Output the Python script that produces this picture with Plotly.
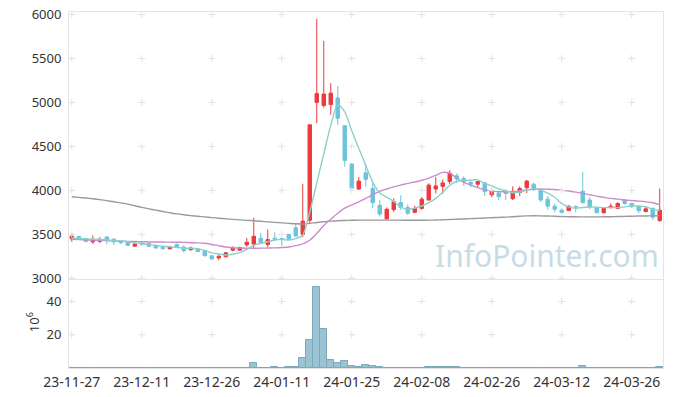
import plotly.graph_objects as go

# ---------------- data ----------------
dates = [
    "23-11-27", "23-11-28", "23-11-29", "23-11-30", "23-12-01",
    "23-12-04", "23-12-05", "23-12-06", "23-12-07", "23-12-08",
    "23-12-11", "23-12-12", "23-12-13", "23-12-14", "23-12-15",
    "23-12-18", "23-12-19", "23-12-20", "23-12-21", "23-12-22",
    "23-12-26", "23-12-27", "23-12-28", "24-01-02", "24-01-03",
    "24-01-04", "24-01-05", "24-01-08", "24-01-09", "24-01-10",
    "24-01-11", "24-01-12", "24-01-15", "24-01-16", "24-01-17",
    "24-01-18", "24-01-19", "24-01-22", "24-01-23", "24-01-24",
    "24-01-25", "24-01-26", "24-01-29", "24-01-30", "24-01-31",
    "24-02-01", "24-02-02", "24-02-05", "24-02-06", "24-02-07",
    "24-02-08", "24-02-13", "24-02-14", "24-02-15", "24-02-16",
    "24-02-19", "24-02-20", "24-02-21", "24-02-22", "24-02-23",
    "24-02-26", "24-02-27", "24-02-28", "24-02-29", "24-03-04",
    "24-03-05", "24-03-06", "24-03-07", "24-03-08", "24-03-11",
    "24-03-12", "24-03-13", "24-03-14", "24-03-15", "24-03-18",
    "24-03-19", "24-03-20", "24-03-21", "24-03-22", "24-03-25",
    "24-03-26", "24-03-27", "24-03-28", "24-03-29", "24-04-01",
]

opens = [
    3450, 3475, 3450, 3415, 3420, 3470, 3445, 3420, 3415, 3365,
    3400, 3400, 3375, 3360, 3335, 3385, 3355, 3325, 3335, 3315,
    3255, 3232, 3245, 3320, 3320, 3380, 3390, 3455, 3385, 3455,
    3452, 3500, 3575, 3500, 3660, 5000, 4965, 4975, 5050, 4735,
    4300, 4015, 4200, 4020, 3830, 3675, 3780, 3860, 3805, 3750,
    3795, 3890, 4015, 4045, 4100, 4165, 4135, 4090, 4070, 4085,
    3950, 3970, 3975, 3905, 3975, 4030, 4070, 4005, 3900, 3820,
    3775, 3770, 3815, 3990, 3890, 3800, 3745, 3805, 3795, 3890,
    3850, 3820, 3760, 3795, 3655,
]
highs = [
    3510, 3480, 3460, 3485, 3470, 3480, 3455, 3430, 3420, 3395,
    3420, 3405, 3385, 3365, 3365, 3395, 3375, 3360, 3345, 3320,
    3260, 3270, 3300, 3365, 3360, 3460, 3690, 3515, 3555, 3520,
    3455, 3505, 3625, 4075, 4745, 5950, 5700, 5220, 5185, 4740,
    4310, 4150, 4300, 4080, 3890, 3805, 3910, 3945, 3840, 3825,
    3925, 4080, 4150, 4125, 4230, 4195, 4160, 4115, 4105, 4095,
    4015, 4000, 4010, 4045, 4045, 4120, 4085, 4010, 3935, 3850,
    3795, 3830, 3830, 4210, 3920, 3815, 3805, 3850, 3865, 3900,
    3860, 3830, 3815, 3805, 4020,
]
lows = [
    3414, 3435, 3410, 3390, 3400, 3385, 3380, 3390, 3365, 3360,
    3370, 3355, 3335, 3330, 3330, 3350, 3290, 3315, 3300, 3245,
    3210, 3205, 3240, 3305, 3315, 3358, 3340, 3395, 3355, 3425,
    3370, 3435, 3470, 3470, 3625, 4765, 4940, 4860, 4745, 4270,
    4020, 4005, 4045, 3795, 3700, 3670, 3755, 3775, 3720, 3740,
    3780, 3885, 3965, 3960, 4070, 4080, 4050, 4035, 4035, 3935,
    3920, 3890, 3890, 3890, 3935, 3970, 4000, 3870, 3780, 3750,
    3735, 3765, 3750, 3850, 3785, 3740, 3740, 3790, 3785, 3835,
    3800, 3740, 3750, 3665, 3645,
]
closes = [
    3480, 3445, 3420, 3435, 3440, 3435, 3415, 3405, 3375, 3390,
    3390, 3365, 3345, 3335, 3355, 3360, 3315, 3345, 3305, 3258,
    3220, 3250, 3290, 3345, 3348, 3410, 3478, 3405, 3440, 3440,
    3448, 3445, 3480, 3650, 4745, 5100, 5095, 5105, 4820, 4340,
    4025, 4105, 4125, 3860, 3730, 3785, 3870, 3805, 3740, 3795,
    3900, 4060, 4050, 4085, 4195, 4130, 4100, 4070, 4100, 3985,
    3995, 3930, 3965, 3990, 4020, 4105, 4005, 3890, 3820, 3785,
    3750, 3820, 3810, 3860, 3810, 3745, 3795, 3820, 3850, 3850,
    3815, 3770, 3790, 3695, 3775,
]

# moving-average lines
ma5 = [
    3455, 3452, 3448, 3446, 3444, 3435, 3429, 3426, 3414, 3404,
    3395, 3385, 3373, 3365, 3358, 3352, 3342, 3342, 3336, 3317,
    3289, 3276, 3265, 3273, 3291, 3329, 3374, 3397, 3416, 3435,
    3442, 3436, 3451, 3493, 3754, 4084, 4414, 4739, 4973, 4892,
    4677, 4479, 4283, 4091, 3969, 3921, 3874, 3810, 3786, 3799,
    3822, 3860, 3909, 3978, 4058, 4104, 4112, 4116, 4119, 4077,
    4050, 4016, 3995, 3973, 3980, 4002, 4017, 4002, 3968, 3921,
    3850, 3813, 3797, 3805, 3810, 3809, 3804, 3806, 3804, 3812,
    3826, 3821, 3815, 3784, 3769,
]
ma20 = [
    3442, 3440, 3437, 3434, 3431, 3428, 3425, 3422, 3420, 3418,
    3416, 3414, 3413, 3412, 3411, 3410, 3408, 3405, 3403, 3398,
    3385, 3370, 3356, 3348, 3344, 3342, 3342, 3343, 3344, 3346,
    3350, 3356, 3372, 3392, 3433, 3510, 3600, 3672, 3740, 3798,
    3835, 3870, 3910, 3950, 3990, 4015, 4040, 4060, 4080, 4095,
    4115, 4140, 4170, 4205, 4195, 4140, 4090, 4060, 4030, 4005,
    3995, 3985, 3985, 3985, 3995, 4005, 4012, 4015, 4013, 4010,
    4000, 3992, 3980, 3966, 3950, 3935, 3920, 3909, 3900, 3890,
    3884, 3878, 3870, 3859, 3835,
]
ma_long = [
    3927, 3920, 3913, 3905, 3895, 3883, 3870, 3857, 3843, 3825,
    3806, 3790, 3775, 3760, 3745, 3732, 3722, 3713, 3705, 3698,
    3690, 3683, 3676, 3670, 3664, 3659, 3654, 3648, 3642, 3636,
    3630, 3625, 3620, 3618, 3625, 3635, 3643, 3650, 3655, 3658,
    3660, 3661, 3662, 3662, 3662, 3662, 3662, 3661, 3660, 3660,
    3660, 3661, 3663, 3666, 3669, 3672, 3675, 3678, 3681, 3685,
    3689, 3692, 3696, 3700, 3705, 3710, 3711, 3710, 3708, 3705,
    3702, 3700, 3699, 3698, 3698, 3698, 3699, 3700, 3702, 3704,
    3706, 3708, 3709, 3710, 3711,
]

# volume in millions of shares (10^6); 0 = no visible bar
volume = [
    0, 0, 0, 0, 0, 0, 0, 0, 0, 0,
    0, 0, 0, 0, 0, 0, 0, 0, 0, 0,
    0, 0, 0, 0, 0, 0, 3.0, 0, 0, 0.6,
    0, 0.6, 0.6, 6.0, 16.8, 48.6, 23.4, 4.8, 3.2, 4.3,
    1.3, 0.6, 1.9, 1.1, 0.5, 0, 0, 0, 0, 0,
    0, 0.4, 0.4, 0.4, 0.4, 0.4, 0, 0, 0, 0,
    0, 0, 0, 0, 0, 0, 0, 0, 0, 0,
    0, 0, 0, 1.4, 0, 0, 0, 0, 0, 0,
    0, 0, 0, 0, 0.8,
]

price_ticks = [3000, 3500, 4000, 4500, 5000, 5500, 6000]
vol_ticks = [20, 40]
date_ticks = dates[::10]

# ---------------- style ----------------
RED = "#ee3a3e"
CYAN = "#6cc4db"
FONT = "Noto Sans"
TICK_COLOR = "#333333"
FRAME = "#e4e4e4"

fig = go.Figure()

fig.add_trace(go.Candlestick(
    x=dates, open=opens, high=highs, low=lows, close=closes,
    xaxis="x2", yaxis="y2",
    increasing=dict(line=dict(color=RED, width=1), fillcolor=RED),
    decreasing=dict(line=dict(color=CYAN, width=1), fillcolor=CYAN),
    whiskerwidth=0, hoverinfo="skip", showlegend=False,
))

for vals, col in [(ma_long, "#9a9a9a"), (ma20, "#cc8bcc"), (ma5, "#8dd0c7")]:
    fig.add_trace(go.Scatter(
        x=dates, y=vals, mode="lines", xaxis="x2", yaxis="y2",
        line=dict(color=col, width=1.4, shape="spline", smoothing=0.8),
        hoverinfo="skip", showlegend=False,
    ))

fig.add_trace(go.Bar(
    x=dates, y=volume, xaxis="x", yaxis="y",
    marker=dict(color="#9bc3d3", line=dict(color="#7ea8bb", width=1)),
    hoverinfo="skip", showlegend=False,
))

# grid crosses (price pane)
fig.add_trace(go.Scatter(
    x=[d for d in date_ticks for _ in price_ticks],
    y=[p for _ in date_ticks for p in price_ticks],
    mode="markers", xaxis="x2", yaxis="y2",
    marker=dict(symbol="cross-thin", size=5, line=dict(color="#e2e2e2", width=1)),
    hoverinfo="skip", showlegend=False,
))
# grid crosses (volume pane)
fig.add_trace(go.Scatter(
    x=[d for d in date_ticks for _ in vol_ticks],
    y=[v for _ in date_ticks for v in vol_ticks],
    mode="markers", xaxis="x", yaxis="y",
    marker=dict(symbol="cross-thin", size=5, line=dict(color="#e2e2e2", width=1)),
    hoverinfo="skip", showlegend=False,
))

ytickfont = dict(family=FONT, size=13, color=TICK_COLOR)
xtickfont = dict(family=FONT, size=14, color=TICK_COLOR)

fig.update_layout(
    width=673, height=397,
    margin=dict(l=69, r=10, t=12, b=29),
    paper_bgcolor="white", plot_bgcolor="white",
    bargap=0,
    showlegend=False,
    xaxis=dict(
        domain=[0, 1], anchor="y", type="category",
        categoryorder="array", categoryarray=dates,
        range=[-0.4, 84.47],
        tickmode="array", tickvals=date_ticks, ticktext=date_ticks,
        tickangle=0, automargin=False, ticklabeloverflow="allow",
        tickfont=xtickfont, ticks="outside", ticklen=1, tickcolor="rgba(0,0,0,0)",
        showgrid=False, zeroline=False,
        showline=True, linecolor=FRAME, linewidth=1, mirror=True,
        rangeslider=dict(visible=False),
    ),
    xaxis2=dict(
        domain=[0, 1], anchor="y2", type="category", matches="x",
        categoryorder="array", categoryarray=dates,
        showticklabels=False, ticks="",
        showgrid=False, zeroline=False,
        showline=True, linecolor=FRAME, linewidth=1, mirror=True,
        rangeslider=dict(visible=False),
    ),
    yaxis=dict(
        domain=[0, 0.2472], range=[0, 52.9], automargin=False,
        ticklabeloverflow="allow",
        tickmode="array", tickvals=vol_ticks,
        tickfont=ytickfont, ticks="outside", ticklen=4, tickcolor="rgba(0,0,0,0)",
        showgrid=False, zeroline=False,
        showline=True, linecolor=FRAME, linewidth=1, mirror=True,
    ),
    yaxis2=dict(
        domain=[0.25, 1], range=[2992, 6028], automargin=False,
        ticklabeloverflow="allow",
        tickmode="array", tickvals=price_ticks,
        tickfont=ytickfont, ticks="outside", ticklen=4, tickcolor="rgba(0,0,0,0)",
        showgrid=False, zeroline=False,
        showline=True, linecolor=FRAME, linewidth=1, mirror=True,
    ),
    annotations=[
        dict(text="InfoPointer.com", xref="paper", yref="paper",
             x=0.805, y=0.317, xanchor="center", yanchor="middle",
             showarrow=False,
             font=dict(family=FONT, size=30, color="#c8dce6")),
        dict(text="10<sup>6</sup>", xref="paper", yref="paper",
             x=-0.062, y=0.129, xanchor="center", yanchor="middle",
             textangle=-90, showarrow=False,
             font=dict(family=FONT, size=13, color=TICK_COLOR)),
    ],
)

# remove the browser's default 8px page margin so the figure fills the window
fig.write_html(
    "out.html",
    config={"displayModeBar": False},
    post_script="document.body.style.margin='0';document.body.style.overflow='hidden';",
)
